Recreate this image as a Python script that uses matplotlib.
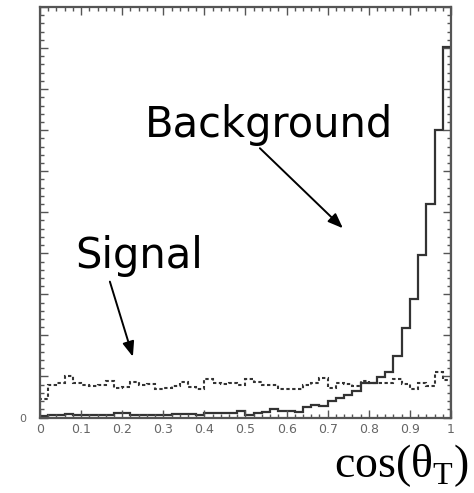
import numpy as np
import matplotlib
matplotlib.use("Agg")
import matplotlib.pyplot as plt
from matplotlib.ticker import MultipleLocator, FixedLocator

# ---- data ----
bin_edges = np.linspace(0.0, 1.0, 51)
background = [0.04, 0.06, 0.06, 0.08, 0.06, 0.05, 0.06, 0.06, 0.07, 0.11, 0.10, 0.07,
              0.06, 0.06, 0.06, 0.07, 0.09, 0.08, 0.08, 0.07, 0.10, 0.12, 0.12, 0.10, 0.17,
              0.06, 0.10, 0.14, 0.20, 0.17, 0.17, 0.14, 0.25, 0.31, 0.28, 0.40, 0.48, 0.55,
              0.64, 0.84, 0.85, 0.99, 1.10, 1.50, 2.19, 2.88, 3.95, 5.20, 7.00, 9.02]
signal = [0.45, 0.80, 0.83, 1.00, 0.85, 0.78, 0.76, 0.78, 0.88, 0.72, 0.74, 0.86,
          0.78, 0.82, 0.69, 0.71, 0.77, 0.87, 0.75, 0.69, 0.93, 0.83, 0.82, 0.83, 0.79,
          0.93, 0.87, 0.79, 0.79, 0.69, 0.69, 0.69, 0.79, 0.85, 0.97, 0.71, 0.83, 0.81,
          0.77, 0.90, 0.85, 0.83, 0.85, 0.95, 0.81, 0.69, 0.85, 0.77, 1.10, 0.91]
x_tick_values = [0, 0.1, 0.2, 0.3, 0.4, 0.5, 0.6, 0.7, 0.8, 0.9, 1]
x_tick_labels = ["0", "0.1", "0.2", "0.3", "0.4", "0.5", "0.6", "0.7", "0.8", "0.9", "1"]
y_tick_values = [0, 1, 2, 3, 4, 5, 6, 7, 8, 9, 10]
y_tick_labels = ["0"] + [""] * 10

plt.rcParams['mathtext.fontset'] = 'custom'
plt.rcParams['mathtext.rm'] = 'Liberation Serif'

fig = plt.figure(figsize=(4.74, 4.93), dpi=100)
ax = fig.add_axes([40/474, 1 - 417.5/493, 411/474, 410.5/493])

ax.stairs(background, bin_edges, color='#333333', linewidth=1.6)
ax.stairs(signal, bin_edges, color='#333333', linewidth=1.5, linestyle=(0, (1.6, 1.2)))

ax.set_xlim(0, 1)
ax.set_ylim(0, 10)

ax.xaxis.set_major_locator(FixedLocator(x_tick_values))
ax.set_xticklabels(x_tick_labels)
ax.xaxis.set_minor_locator(MultipleLocator(0.02))
ax.yaxis.set_major_locator(FixedLocator(y_tick_values))
ax.set_yticklabels(y_tick_labels)
ax.yaxis.set_minor_locator(MultipleLocator(0.2))

gray = '#555555'
ax.tick_params(which='both', direction='in', top=True, right=True, color=gray,
               width=1.0)
ax.tick_params(which='major', length=6)
ax.tick_params(which='minor', length=3)
ax.tick_params(axis='x', which='major', labelsize=9, labelcolor='#666666', pad=4)
ax.tick_params(axis='y', which='major', labelsize=8, labelcolor='#666666', pad=10)
for s in ax.spines.values():
    s.set_color(gray)
    s.set_linewidth(1.6)

# annotations
ax.text(0.255, 6.83, "Background", fontsize=30, family='DejaVu Sans',
        color='black', ha='left', va='baseline')
ax.text(0.085, 3.64, "Signal", fontsize=30, family='DejaVu Sans',
        color='black', ha='left', va='baseline')
arrow_kw = dict(arrowstyle='-|>,head_length=0.9,head_width=0.35', color='black',
                lw=1.4, shrinkA=0, shrinkB=0)
ax.annotate("", xy=(0.737, 4.61), xytext=(0.535, 6.56), arrowprops=arrow_kw)
ax.annotate("", xy=(0.226, 1.48), xytext=(0.170, 3.31), arrowprops=arrow_kw)

fig.text(469/474, 1 - 477/493, r"cos(θ$_{\mathrm{T}}$)", fontsize=33,
         family='Liberation Serif', ha='right', va='baseline', color='black')

fig.savefig("out.png", dpi=100)
